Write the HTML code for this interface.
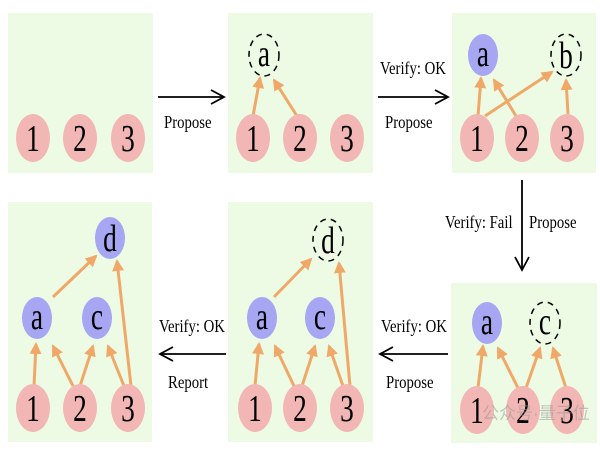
<!DOCTYPE html>
<html><head><meta charset="utf-8"><style>
html,body{margin:0;padding:0;background:#fff;width:600px;height:450px;overflow:hidden}
text{font-family:"Liberation Serif",serif}
</style></head><body>
<svg width="600" height="450" viewBox="0 0 600 450" xmlns="http://www.w3.org/2000/svg">
<defs>
<marker id="o" markerWidth="12" markerHeight="12" refX="10" refY="6" orient="auto" markerUnits="userSpaceOnUse" viewBox="0 0 12 12"><path d="M0,0 L12,6 L0,12 Z" fill="#f0a868"/></marker>
</defs>
<g fill="#edfbe4">
<rect x="8" y="13" width="145" height="160"/>
<rect x="228" y="13" width="145" height="160"/>
<rect x="452" y="13" width="144" height="160"/>
<rect x="8" y="202" width="144" height="240"/>
<rect x="228" y="202" width="145" height="240"/>
<rect x="451" y="283" width="146" height="160"/>
</g>
<g stroke="#f0a868" stroke-width="3" fill="none">
<line x1="253" y1="116" x2="260" y2="78" marker-end="url(#o)"/>
<line x1="297" y1="116" x2="274" y2="80" marker-end="url(#o)"/>
<line x1="478" y1="116" x2="481" y2="78" marker-end="url(#o)"/>
<line x1="516" y1="116" x2="494" y2="80" marker-end="url(#o)"/>
<line x1="485" y1="116" x2="552" y2="72" marker-end="url(#o)"/>
<line x1="568" y1="114" x2="566" y2="80" marker-end="url(#o)"/>
<line x1="478" y1="388" x2="483" y2="346" marker-end="url(#o)"/>
<line x1="518" y1="388" x2="498" y2="348" marker-end="url(#o)"/>
<line x1="526" y1="388" x2="540" y2="348" marker-end="url(#o)"/>
<line x1="566" y1="388" x2="553" y2="348" marker-end="url(#o)"/>
<line x1="255" y1="386" x2="259" y2="344" marker-end="url(#o)"/>
<line x1="294" y1="386" x2="275" y2="346" marker-end="url(#o)"/>
<line x1="302" y1="386" x2="315" y2="346" marker-end="url(#o)"/>
<line x1="343" y1="386" x2="329" y2="346" marker-end="url(#o)"/>
<line x1="350" y1="386" x2="339" y2="263" marker-end="url(#o)"/>
<line x1="274" y1="297" x2="311" y2="259" marker-end="url(#o)"/>
<line x1="34" y1="386" x2="36" y2="344" marker-end="url(#o)"/>
<line x1="73" y1="386" x2="53" y2="346" marker-end="url(#o)"/>
<line x1="80" y1="386" x2="93" y2="346" marker-end="url(#o)"/>
<line x1="124" y1="386" x2="108" y2="346" marker-end="url(#o)"/>
<line x1="131" y1="386" x2="117" y2="261" marker-end="url(#o)"/>
<line x1="53" y1="297" x2="96" y2="256" marker-end="url(#o)"/>
</g>
<g fill="#f2b6b4">
<ellipse cx="33" cy="138" rx="17" ry="24"/><ellipse cx="80" cy="138" rx="17" ry="24"/><ellipse cx="128" cy="138" rx="17" ry="24"/>
<ellipse cx="253" cy="138" rx="17" ry="24"/><ellipse cx="300" cy="138" rx="17" ry="24"/><ellipse cx="347" cy="138" rx="17" ry="24"/>
<ellipse cx="477" cy="138" rx="17" ry="24"/><ellipse cx="522" cy="138" rx="17" ry="24"/><ellipse cx="567" cy="138" rx="17" ry="24"/>
<ellipse cx="33" cy="408" rx="17" ry="24"/><ellipse cx="80" cy="408" rx="17" ry="24"/><ellipse cx="128" cy="408" rx="17" ry="24"/>
<ellipse cx="255" cy="408" rx="17" ry="24"/><ellipse cx="300" cy="408" rx="17" ry="24"/><ellipse cx="347" cy="408" rx="17" ry="24"/>
<ellipse cx="477" cy="410" rx="17" ry="24"/><ellipse cx="523" cy="410" rx="17" ry="24"/><ellipse cx="567" cy="410" rx="17" ry="24"/>
</g>
<g fill="#a6a6f2">
<ellipse cx="483" cy="55" rx="15" ry="21"/>
<ellipse cx="37" cy="318" rx="15" ry="21"/><ellipse cx="97" cy="318" rx="15" ry="21"/><ellipse cx="110" cy="238" rx="15" ry="21"/>
<ellipse cx="262" cy="318" rx="15" ry="21"/><ellipse cx="320" cy="318" rx="15" ry="21"/>
<ellipse cx="487" cy="323" rx="15" ry="21"/>
</g>
<g fill="none" stroke="#000" stroke-width="1.5" stroke-dasharray="6,5">
<ellipse cx="264" cy="55" rx="15" ry="21"/>
<ellipse cx="566" cy="55" rx="15" ry="21"/>
<ellipse cx="328" cy="240" rx="15" ry="21"/>
<ellipse cx="545" cy="323" rx="15" ry="21"/>
</g>
<g font-size="38" text-anchor="middle" fill="#000">
<text transform="translate(33,151) scale(.72,1)">1</text><text transform="translate(80,151) scale(.72,1)">2</text><text transform="translate(128,151) scale(.72,1)">3</text>
<text transform="translate(253,151) scale(.72,1)">1</text><text transform="translate(300,151) scale(.72,1)">2</text><text transform="translate(347,151) scale(.72,1)">3</text>
<text transform="translate(477,151) scale(.72,1)">1</text><text transform="translate(522,151) scale(.72,1)">2</text><text transform="translate(567,151) scale(.72,1)">3</text>
<text transform="translate(33,421) scale(.72,1)">1</text><text transform="translate(80,421) scale(.72,1)">2</text><text transform="translate(128,421) scale(.72,1)">3</text>
<text transform="translate(255,421) scale(.72,1)">1</text><text transform="translate(300,421) scale(.72,1)">2</text><text transform="translate(347,421) scale(.72,1)">3</text>
<text transform="translate(477,423) scale(.72,1)">1</text><text transform="translate(523,423) scale(.72,1)">2</text><text transform="translate(567,423) scale(.72,1)">3</text>
<text transform="translate(264,66) scale(.72,1)">a</text><text transform="translate(483,66) scale(.72,1)">a</text><text transform="translate(566,68) scale(.72,1)">b</text>
<text transform="translate(37,329) scale(.72,1)">a</text><text transform="translate(97,329) scale(.72,1)">c</text><text transform="translate(110,251) scale(.72,1)">d</text>
<text transform="translate(262,329) scale(.72,1)">a</text><text transform="translate(320,329) scale(.72,1)">c</text><text transform="translate(328,253) scale(.72,1)">d</text>
<text transform="translate(487,334) scale(.72,1)">a</text><text transform="translate(545,334) scale(.72,1)">c</text>
</g>
<g stroke="#000" stroke-width="1.8" fill="none">
<line x1="158" y1="97" x2="224" y2="97"/><path d="M211,90 L224,97 L211,104"/>
<line x1="378" y1="97" x2="448" y2="97"/><path d="M435,90 L448,97 L435,104"/>
<line x1="522" y1="180" x2="522" y2="270"/><path d="M515,257 L522,270 L529,257"/>
<line x1="226" y1="354" x2="160" y2="354"/><path d="M173,347 L160,354 L173,361"/>
<line x1="448" y1="354" x2="380" y2="354"/><path d="M393,347 L380,354 L393,361"/>
</g>
<g font-size="18" fill="#000">
<text transform="translate(164,128) scale(.82,1)">Propose</text>
<text transform="translate(380,74) scale(.82,1)">Verify: OK</text>
<text transform="translate(385,128) scale(.82,1)">Propose</text>
<text transform="translate(445,228) scale(.82,1)">Verify: Fail</text>
<text transform="translate(529,228) scale(.82,1)">Propose</text>
<text transform="translate(159,332) scale(.82,1)">Verify: OK</text>
<text transform="translate(168,388) scale(.82,1)">Report</text>
<text transform="translate(381,332) scale(.82,1)">Verify: OK</text>
<text transform="translate(386,388) scale(.82,1)">Propose</text>
</g>
<text x="482" y="419" font-size="17" fill="#999" fill-opacity="0.55" style='font-family:"Liberation Sans","Noto Sans CJK SC",sans-serif'>公众号·量子位</text>
</svg>
</body></html>
